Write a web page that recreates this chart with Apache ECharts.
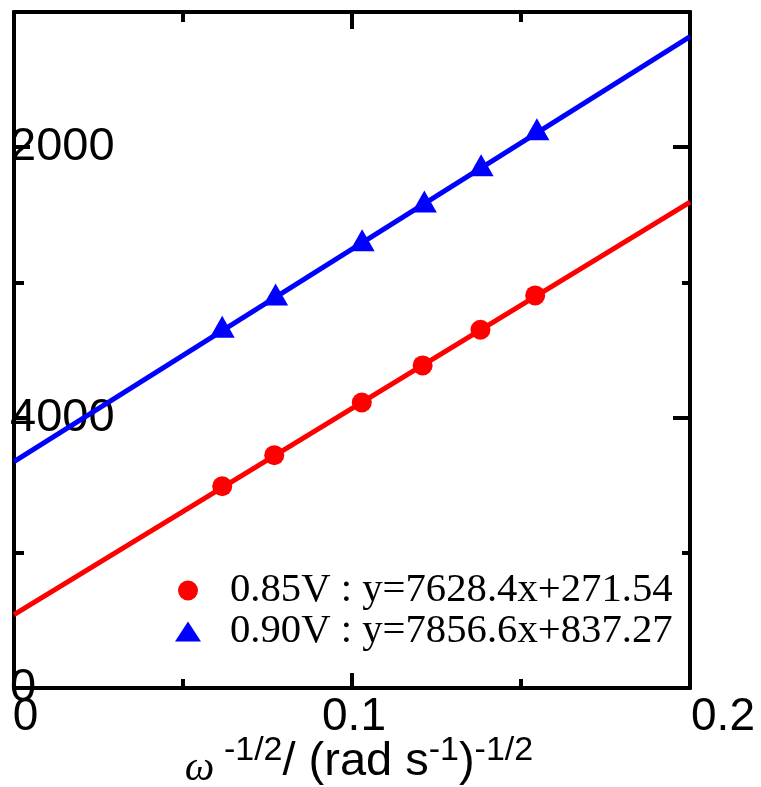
<!DOCTYPE html>
<html>
<head>
<meta charset="utf-8">
<script src="https://cdn.jsdelivr.net/npm/echarts@6/dist/echarts.min.js"></script>
<style>
  html, body { margin: 0; padding: 0; background: #fff; }
  #chart { width: 761px; height: 787px; }
</style>
</head>
<body>
<div id="chart"></div>
<script>
// data
var redName = '0.85V : y=7628.4x+271.54';
var blueName = '0.90V : y=7856.6x+837.27';
var xRed = [0.0616, 0.0770, 0.1029, 0.1209, 0.1380, 0.1542];
var yRed = [746, 861, 1056, 1193, 1325, 1452];
var xBlue = [0.0616, 0.0774, 0.1030, 0.1214, 0.1382, 0.1547];
var yBlue = [1336, 1455, 1656, 1799, 1933, 2066];
// fitted lines, ends at the plot edges
var xFit = [0, 0.2];
var yFitRed = [271.54, 1797.2];
var yFitBlue = [837.27, 2408.6];
// tick labels as printed
var xTickValues = [0, 0.1, 0.2];
var xTickLabels = ['0', '0.1', '0.2'];
var yTickValues = [0, 1000, 2000];
var yTickLabels = ['0', '4000', '2000'];

function pairs(xs, ys) {
  return xs.map(function (x, i) { return [x, ys[i]]; });
}

var sans = 'Liberation Sans, Arial, sans-serif';
var serif = 'Liberation Serif, Times New Roman, serif';
var black = '#000';

var chart = echarts.init(document.getElementById('chart'));

var xLabelStyle = ['a', 'b', 'c'];
function xAxisBase(pos) {
  return {
    type: 'value', position: pos, min: 0, max: 0.2, interval: 0.1,
    axisLine: { show: true, onZero: false, lineStyle: { color: black, width: 4 } },
    axisTick: { show: true, inside: true, length: pos === 'top' ? 17 : 15, lineStyle: { color: black, width: 4 } },
    minorTick: { show: true, splitNumber: 2, length: pos === 'top' ? 10 : 9, lineStyle: { color: black, width: 4 } },
    splitLine: { show: false },
    minorSplitLine: { show: false }
  };
}

function yAxisBase(pos, interval, len) {
  return {
    type: 'value', position: pos, min: 0, max: 2500, interval: interval, offset: 0,
    axisLine: { show: true, onZero: false, lineStyle: { color: black, width: 4 } },
    axisTick: { show: true, inside: true, length: len, lineStyle: { color: black, width: 4 } },
    axisLabel: { show: false },
    splitLine: { show: false }
  };
}

var xBottom = xAxisBase('bottom');
xBottom.axisLabel = {
  show: true, margin: 6, color: black, fontFamily: sans, fontSize: 46,
  formatter: function (v) {
    var i = xTickValues.findIndex(function (t) { return Math.abs(t - v) < 1e-9; });
    return i < 0 ? '' : '{' + xLabelStyle[i] + '|' + xTickLabels[i] + '}';
  },
  rich: {
    a: { fontFamily: sans, fontSize: 46, color: black, padding: [0, 0, 0, 23] },
    b: { fontFamily: sans, fontSize: 46, color: black, padding: [0, 0, 0, 4] },
    c: { fontFamily: sans, fontSize: 46, color: black, padding: [0, 0, 0, 66] }
  }
};
xBottom.name = '{w|ω}{s| -1/2}{t|/ (rad s}{s|-1}{t|)}{s|-1/2}';
xBottom.nameLocation = 'middle';
xBottom.nameGap = 46;
xBottom.nameMoveOverlap = false;
xBottom.nameTextStyle = {
  padding: [0, 0, 0, 14],
  rich: {
    w: { fontFamily: serif, fontStyle: 'italic', fontSize: 42, lineHeight: 36, color: black, verticalAlign: 'bottom' },
    s: { fontFamily: sans, fontSize: 34, lineHeight: 20, color: black, verticalAlign: 'top' },
    t: { fontFamily: sans, fontSize: 47, lineHeight: 56, color: black, verticalAlign: 'middle' }
  }
};

var xTop = xAxisBase('top');
xTop.axisLabel = { show: false };

var yLeft = yAxisBase('left', 1000, 16);
yLeft.axisLabel = {
  show: true, inside: true, margin: -4, color: black, fontFamily: sans, fontSize: 47,
  formatter: function (v) {
    var i = yTickValues.indexOf(v);
    return i < 0 ? '' : yTickLabels[i];
  }
};
var yLeftMinor = yAxisBase('left', 500, 10);
var yRight = yAxisBase('right', 1000, 17);
var yRightMinor = yAxisBase('right', 500, 8);

var option = {
  animation: false,
  backgroundColor: '#fff',
  grid: { left: 14, right: 71, top: 12, bottom: 99, containLabel: false, outerBoundsMode: 'none' },
  xAxis: [xBottom, xTop],
  yAxis: [yLeft, yLeftMinor, yRight, yRightMinor],
  legend: {
    orient: 'vertical', left: 170, top: 565, itemWidth: 26, itemHeight: 20, itemGap: 0,
    data: [{ name: redName, icon: 'circle' }, { name: blueName, icon: 'triangle' }],
    textStyle: { fontFamily: serif, fontSize: 40.7, lineHeight: 39, color: black, padding: [0, 0, 0, 24] }
  },
  series: [
    {
      type: 'line', xAxisIndex: 0, yAxisIndex: 0, data: pairs(xFit, yFitRed),
      showSymbol: false, silent: true, z: 2,
      lineStyle: { color: '#ff0000', width: 5 }
    },
    {
      type: 'line', xAxisIndex: 0, yAxisIndex: 0, data: pairs(xFit, yFitBlue),
      showSymbol: false, silent: true, z: 2,
      lineStyle: { color: '#0000ff', width: 5 }
    },
    {
      name: redName, type: 'scatter', xAxisIndex: 0, yAxisIndex: 0, data: pairs(xRed, yRed),
      symbol: 'circle', symbolSize: 20, z: 3,
      itemStyle: { color: '#ff0000', opacity: 1 }
    },
    {
      name: blueName, type: 'scatter', xAxisIndex: 0, yAxisIndex: 0, data: pairs(xBlue, yBlue),
      symbol: 'triangle', symbolSize: [25, 22], z: 3,
      itemStyle: { color: '#0000ff', opacity: 1 }
    }
  ]
};

chart.setOption(option);
</script>
</body>
</html>
